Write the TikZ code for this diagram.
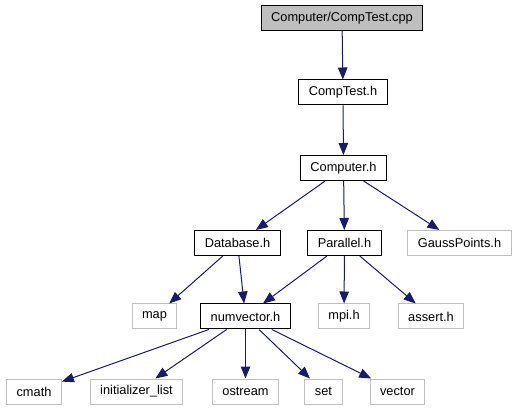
\documentclass[tikz,border=0pt]{standalone}
\usepackage{fontspec}
\setmainfont{Liberation Sans}
\usetikzlibrary{arrows.meta}
\definecolor{edgeblue}{HTML}{191970}
\definecolor{sysgray}{HTML}{BFBFBF}
\definecolor{rootgray}{HTML}{BFBFBF}
\begin{document}
\begin{tikzpicture}[x=1pt, y=-1pt,
    file/.style={shape=rectangle, draw=black, line width=1pt, inner xsep=10pt, inner ysep=0pt, minimum height=25pt, font=\fontsize{12.8}{15}\selectfont},
    sysfile/.style={file, draw=sysgray},
    rootfile/.style={file, fill=rootgray},
    inc/.style={draw=edgeblue, line width=1pt, -{Triangle[length=12pt, width=9.5pt]}}]
    \useasboundingbox (0, 0) rectangle (519, 411);
	\node[rootfile] (cpp) at (342, 18) {Computer/CompTest.cpp};
	\node[file] (comptest) at (343, 92.5) {CompTest.h};
	\node[file] (computer) at (343.5, 168) {Computer.h};
	\node[file] (database) at (237.5, 243) {Database.h};
	\node[file] (parallel) at (344.5, 243) {Parallel.h};
	\node[sysfile] (gauss) at (459.5, 243) {GaussPoints.h};
	\node[sysfile] (map) at (154.5, 316.5) {map};
	\node[file] (numvector) at (245.5, 316.5) {numvector.h};
	\node[sysfile] (mpi) at (344, 316.5) {mpi.h};
	\node[sysfile] (assert) at (431, 316.5) {assert.h};
	\node[sysfile] (cmath) at (34, 391.5) {cmath};
	\node[sysfile] (initlist) at (136.5, 391.5) {initializer\_list};
	\node[sysfile] (ostream) at (245.5, 391.5) {ostream};
	\node[sysfile] (set) at (323.5, 391.5) {set};
	\node[sysfile] (vector) at (397.5, 391.5) {vector};
	% includes
	\draw[inc] (cpp) -- (comptest);
	\draw[inc] (comptest) -- (computer);
	\draw[inc] (computer) -- (database);
	\draw[inc] (computer) -- (parallel);
	\draw[inc] (computer) -- (gauss);
	\draw[inc] (database) -- (map);
	\draw[inc] (database) -- (numvector);
	\draw[inc] (parallel) -- (numvector);
	\draw[inc] (parallel) -- (mpi);
	\draw[inc] (parallel) -- (assert);
	\foreach \dst in {cmath, initlist, ostream, set, vector}
	    \draw[inc] (numvector) -- (\dst);
\end{tikzpicture}
\end{document}
